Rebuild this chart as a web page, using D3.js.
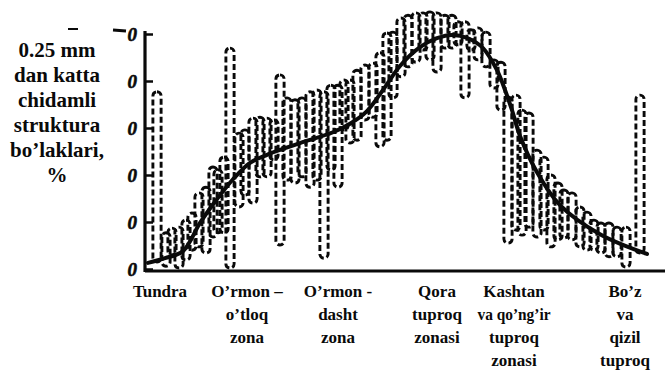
<!DOCTYPE html>
<html><head><meta charset="utf-8">
<script src="https://cdn.jsdelivr.net/npm/d3@7"></script>
<style>
html,body{margin:0;padding:0;background:#fff;}
svg{display:block;}
</style></head>
<body>
<svg id="chart" width="666" height="372"></svg>
<script>
// Sample positions along the zonal transect and the min–max range of each sample
const barPos  = [2.4,4.2,5.4,6.8,8.2,9.4,10.8,12.2,13.6,14.6,15.8,17.0,18.8,20.0,21.6,23.0,24.4,25.8,27.0,28.4,
                 30.0,31.4,33.0,34.4,35.8,37.2,38.6,39.8,41.0,42.4,44.0,45.6,47.0,48.4,49.6,51.2,52.6,54.2,55.6,57.0,
                 58.4,60.0,61.4,62.6,64.0,65.2,66.6,68.2,69.8,71.2,72.6,74.2,75.4,76.8,78.4,79.8,81.2,82.6,83.8,85.4,
                 87.0,88.4,89.8,91.2,92.8,94.4,96.2,99.0];
const barHigh = [37.7,7.7,8.7,8.9,10.4,11.9,16.2,17.4,21.7,21.1,23.8,47.0,28.9,29.6,32.1,32.3,32.1,31.7,41.3,36.4,
                 36.0,36.4,37.7,38.1,37.7,39.1,39.1,40.2,40.2,42.3,43.4,43.8,46.0,50.2,50.4,53.4,54.0,54.5,54.5,54.7,
                 54.5,54.0,54.0,52.6,52.6,50.9,51.3,50.4,44.5,44.0,36.6,37.0,33.8,33.2,25.3,23.8,20.0,18.3,16.8,16.2,
                 13.2,12.1,10.4,9.8,9.8,8.9,8.9,37.0];
const barLow  = [1.5,0.6,3.0,0.2,1.9,4.0,4.7,3.4,6.8,7.7,7.7,0.2,13.2,15.7,14.0,19.6,19.6,23.2,5.1,18.9,
                 18.3,19.6,17.4,18.9,2.3,21.1,17.4,29.6,26.8,27.4,31.7,32.3,26.0,27.4,36.4,40.9,43.0,44.0,46.6,44.5,
                 41.9,47.0,47.0,47.7,36.4,46.6,44.5,43.0,38.5,33.8,5.5,8.3,7.2,8.9,6.8,8.3,4.7,6.2,6.6,6.2,
                 4.7,4.0,4.0,3.4,2.6,2.6,0.4,3.4];

// Smoothed trend of the share of stable aggregates
const curvePos = [0.6,4.0,7.6,11.0,14.0,17.6,21.0,24.4,28.0,31.0,37.6,41.0,44.4,48.0,51.0,55.0,58.4,61.4,64.6,67.6,
                  70.4,72.0,73.4,75.0,78.4,83.0,91.0,100.4];
const curveVal = [1.3,2.3,3.8,9.8,14.3,19.1,22.6,24.3,25.7,26.8,29.1,30.9,33.6,38.7,43.2,47.2,49.1,49.8,49.1,47.0,
                  42.3,38.1,33.8,28.3,20.6,13.6,7.4,3.2];

const yTickValues = [0,10,20,30,40,50];
const yTickLabels = ["0","0","0","0","0","0"];
const yTitle = ["0.25 mm","dan katta","chidamli","struktura","bo’laklari,","%"];

const zoneNames = [
  ["Tundra"],
  ["O’rmon –","o’tloq","zona"],
  ["O’rmon -","dasht","zona"],
  ["Qora","tuproq","zonasi"],
  ["Kashtan","va qo’ng’ir","tuproq","zonasi"],
  ["Bo’z","va","qizil","tuproq"]
];
const zonePos = [3.0, 20.4, 38.6, 58.4, 73.8, 96.0];

const svg = d3.select("#chart");
const x = d3.scaleLinear().domain([0,104]).range([145,665]);
const y = d3.scaleLinear().domain([0,50]).range([269,34]);
const ink = "#0a0a0a";
const serif = "'Liberation Serif','Times New Roman',serif";

// dashed capsules, one per sample range
const capW = 8.2;
svg.append("g").selectAll("rect")
  .data(barPos.map((p,i)=>({p, lo:barLow[i], hi:barHigh[i]})))
  .join("rect")
  .attr("x", d=>x(d.p)-capW/2)
  .attr("width", capW)
  .attr("y", d=>y(d.hi))
  .attr("height", d=>y(d.lo)-y(d.hi))
  .attr("rx", capW/2)
  .attr("fill","none")
  .attr("stroke", ink)
  .attr("stroke-width", 2.9)
  .attr("stroke-dasharray","6,3");

// trend curve
const line = d3.line().x(d=>x(d[0])).y(d=>y(d[1])).curve(d3.curveCatmullRom.alpha(0.5));
svg.append("path")
  .datum(curvePos.map((p,i)=>[p,curveVal[i]]))
  .attr("d", line)
  .attr("fill","none")
  .attr("stroke", ink)
  .attr("stroke-width", 4)
  .attr("stroke-linecap","round");

// y axis with inward ticks
const yAxis = d3.axisLeft(y).tickValues(yTickValues)
  .tickFormat((d,i)=>yTickLabels[i]).tickSizeInner(-8).tickSizeOuter(0).tickPadding(8);
const gy = svg.append("g").attr("transform","translate(145,0)").call(yAxis);
gy.select(".domain").remove();
gy.selectAll(".tick line").attr("stroke", ink).attr("stroke-width", 2.5);
gy.selectAll(".tick text")
  .attr("font-family", serif).attr("font-size", 19)
  .attr("font-weight","bold").attr("font-style","italic").attr("fill", ink)
  .attr("stroke", ink).attr("stroke-width", 0.6);
svg.append("line")
  .attr("x1",145).attr("x2",145).attr("y1",y(50)-3).attr("y2",y(0)+3)
  .attr("stroke",ink).attr("stroke-width",3.2);
svg.append("line")
  .attr("x1",113).attr("x2",126).attr("y1",y(50)-4).attr("y2",y(50)-3)
  .attr("stroke",ink).attr("stroke-width",2.8);

// x axis baseline
svg.append("line")
  .attr("x1",145).attr("x2",x(104)).attr("y1",y(0)+2).attr("y2",y(0)+2)
  .attr("stroke",ink).attr("stroke-width",3.2);

// zone labels; the long second line under "Kashtan" is set a little tighter
const zl = svg.append("g").attr("font-family", serif).attr("font-size",17)
  .attr("font-weight","bold").attr("fill", ink).attr("text-anchor","middle");
zoneNames.forEach((lines,i)=>{
  lines.forEach((s,j)=>{
    const t = zl.append("text").attr("x", x(zonePos[i])).attr("y", 297 + j*23).text(s);
    if (s.length > 9) t.attr("textLength", 73).attr("lengthAdjust","spacingAndGlyphs");
  });
});

// y-axis title
const yt = svg.append("text").attr("font-family", serif).attr("font-size",21)
  .attr("font-weight","bold").attr("fill", ink).attr("text-anchor","middle")
  .attr("x",57).attr("y",57);
yTitle.forEach((s,j)=>{
  yt.append("tspan").attr("x",57).attr("dy", j===0?0:25).text(s);
});
svg.append("line").attr("x1",68).attr("x2",78).attr("y1",29).attr("y2",29)
  .attr("stroke",ink).attr("stroke-width",2);
</script>
</body></html>
